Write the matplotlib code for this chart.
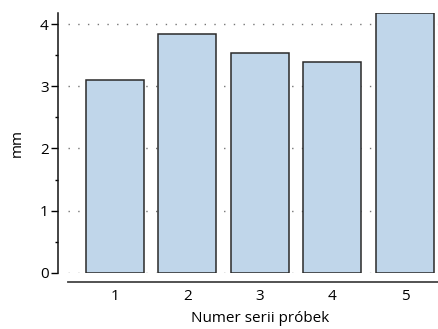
import matplotlib
matplotlib.use("Agg")
import matplotlib.pyplot as plt
from matplotlib.ticker import MultipleLocator

plt.rcParams["font.family"] = ["Open Sans", "DejaVu Sans"]

series = [1, 2, 3, 4, 5]
values_mm = [3.11, 3.84, 3.54, 3.40, 4.19]
tick_labels = ["1", "2", "3", "4", "5"]

W, H = 438, 329
fig = plt.figure(figsize=(W / 100, H / 100), dpi=100)
left, right, bottom, top = 68, 452, 272.7, 12.5
ax = fig.add_axes([left / W, 1 - bottom / H, (right - left) / W, (bottom - top) / H])

ax.bar(series, values_mm, width=0.8, color="#c0d6ea", edgecolor="#2a2a2a",
       linewidth=1.1, zorder=3)

ax.set_xlim(0.352, 5.65)
ax.set_ylim(0, 4.19)
ax.set_xticks(series)
ax.set_xticklabels(tick_labels)
ax.yaxis.set_major_locator(MultipleLocator(1))
ax.yaxis.set_minor_locator(MultipleLocator(0.5))

ax.grid(axis="y", which="major", color="#777777", linestyle=(0, (1, 6)),
        linewidth=1.0, zorder=0)

for side in ("top", "right"):
    ax.spines[side].set_visible(False)
ax.spines["left"].set_position(("outward", 7))
ax.spines["bottom"].set_position(("outward", 7))
ax.spines["left"].set_linewidth(1.1)
ax.spines["left"].set_color("#111111")
ax.spines["bottom"].set_linewidth(1.3)
ax.spines["bottom"].set_color("#444444")

ax.tick_params(axis="y", which="major", length=5, width=1.0, labelsize=11, pad=2)
ax.tick_params(axis="y", which="minor", length=2.5, width=1.0)
ax.tick_params(axis="x", length=0, labelsize=11, pad=5)

ax.set_ylabel("mm", fontsize=11, labelpad=11)
ax.set_xlabel("Numer serii próbek", fontsize=11, labelpad=5)

fig.savefig("out.png", dpi=100)
